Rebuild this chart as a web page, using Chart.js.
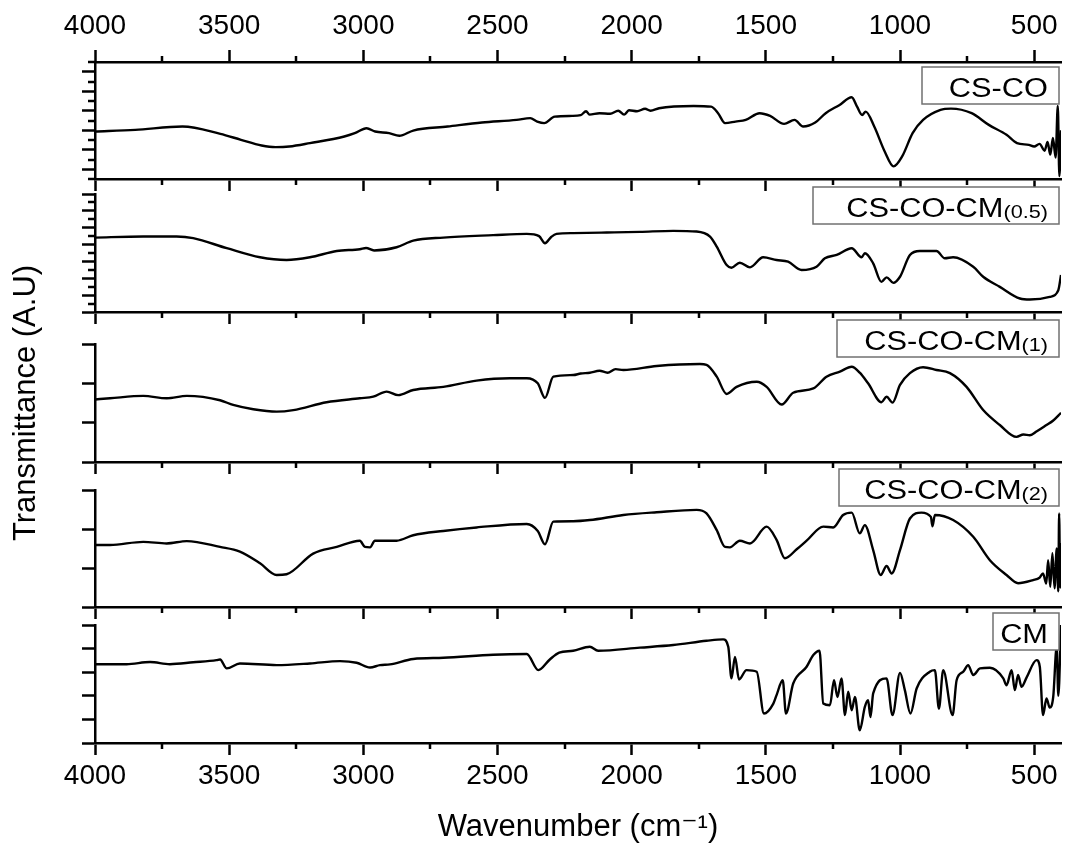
<!DOCTYPE html>
<html>
<head>
<meta charset="utf-8">
<script src="https://cdn.jsdelivr.net/npm/chart.js@4.4.1/dist/chart.umd.min.js"></script>
<style>
  html, body { margin: 0; padding: 0; background: #fff; }
  #wrap { position: relative; width: 1065px; height: 843px; }
  #wrap canvas { position: absolute; left: 0; top: 0; }
</style>
</head>
<body>
<div id="wrap">
  <canvas id="p1" width="1065" height="843"></canvas>
  <canvas id="p2" width="1065" height="843"></canvas>
  <canvas id="p3" width="1065" height="843"></canvas>
  <canvas id="p4" width="1065" height="843"></canvas>
  <canvas id="p5" width="1065" height="843"></canvas>
</div>
<script>
// ---- donnees (nombre d'onde en cm-1, transmittance en unites arbitraires) ----
const xMajor = [4000, 3500, 3000, 2500, 2000, 1500, 1000, 500]
const xMinor = [3750, 3250, 2750, 2250, 1750, 1250, 750]

const names = ['CS-CO', 'CS-CO-CM', 'CS-CO-CM', 'CS-CO-CM', 'CM']
const subs = ['', '(0.5)', '(1)', '(2)', '']

// graduations des axes y de chaque panneau
const yMax = [12, 14, 3, 3, 5]
const yMajor = [[1, 3, 5, 7, 9, 11], [0, 2, 4, 6, 8, 10, 12, 14], [0, 1, 2, 3], [0, 1, 2, 3], [0, 1, 2, 3, 4, 5]]
const yMinor = [[0, 2, 4, 6, 8, 10, 12], [1, 3, 5, 7, 9, 11, 13], [], [], []]

const csCoWn = [4000, 3850, 3674, 3533, 3456, 3379, 3327, 3276, 3199, 3071, 3032, 2988, 2956, 2904, 2866, 2814, 2686, 2558, 2429, 2378, 2352, 2326, 2287, 2222, 2190, 2170, 2157, 2120, 2080, 2050, 2028, 2010, 1980, 1950, 1930, 1898, 1769, 1704, 1678, 1652, 1613, 1575, 1523, 1484, 1432, 1393, 1361, 1316, 1277, 1225, 1180, 1160, 1141, 1128, 1096, 1057, 1024, 992, 953, 914, 849, 810, 733, 669, 603, 564, 520, 500, 480, 461, 450, 440, 430, 420, 412, 406, 400]
const csCoT = [4.87, 5.04, 5.38, 4.63, 4.02, 3.44, 3.27, 3.33, 3.68, 4.36, 4.70, 5.21, 4.87, 4.70, 4.43, 4.97, 5.38, 5.79, 6.06, 6.24, 5.89, 5.73, 6.40, 6.47, 6.55, 6.95, 6.60, 6.75, 6.70, 7.00, 6.60, 7.05, 6.95, 7.20, 7.00, 7.26, 7.49, 7.42, 6.75, 5.73, 5.89, 6.06, 6.75, 6.47, 5.65, 6.06, 5.38, 5.79, 6.75, 7.60, 8.38, 7.42, 6.57, 6.91, 5.38, 2.82, 1.29, 2.31, 4.70, 6.06, 7.09, 7.22, 6.75, 5.55, 4.53, 3.68, 3.50, 3.33, 3.60, 2.90, 3.80, 2.50, 4.20, 2.20, 7.50, 0.30, 5.00]

const cm05Wn = [4000, 3820, 3696, 3634, 3509, 3385, 3286, 3199, 3099, 3013, 2990, 2960, 2876, 2814, 2702, 2516, 2391, 2345, 2323, 2300, 2280, 2218, 2093, 1969, 1845, 1758, 1708, 1683, 1646, 1628, 1597, 1559, 1510, 1460, 1417, 1367, 1311, 1280, 1236, 1180, 1143, 1131, 1100, 1069, 1050, 1025, 1000, 963, 926, 864, 833, 802, 727, 690, 628, 553, 516, 442, 410, 400]
const cm05T = [8.83, 8.95, 8.95, 8.76, 7.57, 6.49, 6.17, 6.49, 7.24, 7.45, 7.60, 7.30, 7.68, 8.47, 8.83, 9.12, 9.27, 9.00, 8.16, 8.90, 9.27, 9.36, 9.43, 9.51, 9.63, 9.55, 8.95, 7.76, 5.57, 5.25, 5.85, 5.30, 6.49, 6.17, 5.97, 4.98, 5.37, 6.37, 6.77, 7.57, 6.49, 6.97, 5.78, 3.58, 4.11, 3.46, 4.18, 6.77, 7.24, 7.24, 6.37, 6.49, 5.37, 4.18, 2.98, 1.60, 1.48, 1.79, 2.59, 4.38]

const cm1Wn = [4000, 3944, 3820, 3733, 3658, 3534, 3485, 3410, 3323, 3261, 3137, 3013, 2963, 2913, 2870, 2814, 2702, 2578, 2454, 2391, 2350, 2323, 2292, 2218, 2190, 2156, 2120, 2090, 2060, 2031, 1907, 1746, 1721, 1683, 1646, 1609, 1534, 1497, 1441, 1398, 1323, 1274, 1224, 1180, 1150, 1119, 1069, 1050, 1028, 1000, 963, 914, 864, 814, 752, 690, 628, 566, 540, 516, 490, 454, 430, 400]
const cm1T = [1.59, 1.62, 1.68, 1.62, 1.68, 1.57, 1.45, 1.34, 1.28, 1.32, 1.52, 1.62, 1.66, 1.79, 1.70, 1.83, 1.91, 2.07, 2.13, 2.13, 2.00, 1.63, 2.17, 2.21, 2.25, 2.27, 2.32, 2.27, 2.36, 2.34, 2.44, 2.49, 2.47, 2.17, 1.73, 1.91, 2.04, 1.91, 1.46, 1.76, 1.87, 2.17, 2.30, 2.42, 2.27, 2.00, 1.52, 1.66, 1.51, 1.96, 2.26, 2.41, 2.34, 2.26, 1.91, 1.32, 0.94, 0.64, 0.70, 0.68, 0.78, 0.94, 1.05, 1.25]

const cm2Wn = [4000, 3944, 3820, 3733, 3658, 3534, 3460, 3385, 3323, 3286, 3187, 3099, 3013, 2994, 2975, 2957, 2876, 2814, 2702, 2578, 2391, 2350, 2323, 2292, 2218, 2156, 2031, 1907, 1758, 1721, 1683, 1652, 1634, 1597, 1559, 1497, 1460, 1429, 1385, 1348, 1286, 1249, 1212, 1180, 1150, 1131, 1100, 1072, 1050, 1031, 1000, 963, 920, 885, 879, 870, 802, 727, 665, 603, 560, 504, 480, 467, 455, 448, 440, 432, 424, 416, 410, 407, 403, 400]
const cm2T = [1.59, 1.59, 1.67, 1.63, 1.69, 1.54, 1.42, 1.12, 0.82, 0.84, 1.37, 1.54, 1.70, 1.54, 1.53, 1.70, 1.70, 1.84, 1.95, 2.04, 2.13, 1.95, 1.61, 2.19, 2.20, 2.23, 2.36, 2.43, 2.49, 2.40, 1.97, 1.54, 1.53, 1.70, 1.63, 2.06, 1.72, 1.25, 1.48, 1.70, 2.06, 2.04, 2.36, 2.42, 1.89, 2.10, 1.46, 0.82, 1.05, 0.86, 1.46, 2.27, 2.42, 2.31, 2.07, 2.36, 2.23, 1.80, 1.20, 0.82, 0.61, 0.69, 0.75, 0.86, 0.60, 1.20, 0.52, 1.38, 0.48, 1.50, 0.40, 2.40, 0.50, 1.64]

const cmWn = [4000, 3882, 3795, 3721, 3634, 3547, 3534, 3509, 3460, 3323, 3199, 3087, 3025, 2975, 2938, 2901, 2814, 2702, 2516, 2391, 2348, 2305, 2270, 2218, 2156, 2125, 1969, 1845, 1721, 1659, 1640, 1628, 1615, 1600, 1572, 1534, 1507, 1472, 1460, 1437, 1425, 1398, 1348, 1323, 1300, 1286, 1261, 1246, 1233, 1218, 1205, 1193, 1180, 1168, 1150, 1131, 1119, 1110, 1100, 1050, 1028, 1000, 982, 961, 938, 889, 870, 855, 839, 804, 789, 764, 746, 727, 702, 665, 615, 603, 584, 572, 560, 547, 528, 491, 479, 467, 454, 442, 429, 416, 410, 400]
const cmT = [3.34, 3.34, 3.43, 3.34, 3.42, 3.51, 3.54, 3.16, 3.37, 3.30, 3.37, 3.47, 3.40, 3.20, 3.30, 3.33, 3.56, 3.61, 3.74, 3.77, 3.09, 3.54, 3.83, 3.91, 4.08, 3.91, 4.04, 4.15, 4.33, 4.39, 4.08, 2.74, 3.65, 2.69, 3.09, 3.02, 1.25, 1.67, 2.03, 2.66, 1.25, 2.52, 3.23, 3.73, 3.91, 1.67, 1.60, 2.66, 1.95, 2.74, 1.18, 2.17, 1.39, 1.95, 0.54, 1.53, 1.81, 1.10, 2.10, 2.74, 1.18, 2.97, 2.24, 1.25, 2.31, 3.02, 3.09, 1.46, 3.09, 1.18, 2.66, 3.02, 3.30, 2.88, 3.16, 3.19, 2.74, 2.45, 3.09, 2.24, 2.88, 2.38, 2.78, 3.51, 3.23, 1.18, 1.89, 1.50, 1.95, 4.08, 2.00, 5.00]

const spectres = [[csCoWn, csCoT], [cm05Wn, cm05T], [cm1Wn, cm1T], [cm2Wn, cm2T], [cmWn, cmT]]

// ---- mise en page (pixels de la page) ----
const W = 1065, H = 843
const zone = [
    {top: 62, bottom: 179},
    {top: 194, bottom: 312},
    {top: 344, bottom: 462},
    {top: 490, bottom: 607},
    {top: 625, bottom: 743}
]
const boite = [{w: 137, dy: 5}, {w: 246, dy: -7}, {w: 222, dy: -24}, {w: 220, dy: -21}, {w: 66, dy: -12}]

const police = "'Liberation Sans', Arial, 'DejaVu Sans', sans-serif"
Chart.defaults.font.family = police
Chart.defaults.color = '#000'

// petites graduations + cadre du nom de l'echantillon
function pluginPanneau(i) {
    return {
        id: 'panneau' + i,
        afterDraw(chart) {
            const ctx = chart.ctx
            ctx.save()
            ctx.strokeStyle = '#000'
            ctx.lineWidth = 2.5
            ctx.beginPath()
            for (const id of Object.keys(chart.scales)) {
                const s = chart.scales[id]
                if (s.isHorizontal()) {
                    const haut = s.options.position === 'top'
                    const y0 = haut ? s.bottom : s.top
                    for (const v of xMinor) {
                        const p = Math.round(s.getPixelForValue(v))
                        ctx.moveTo(p, y0)
                        ctx.lineTo(p, y0 + (haut ? -6 : 6))
                    }
                } else {
                    for (const v of yMinor[i]) {
                        const p = Math.round(s.getPixelForValue(v))
                        ctx.moveTo(s.right, p)
                        ctx.lineTo(s.right - 7, p)
                    }
                }
            }
            ctx.stroke()

            // cadre + texte (legerement etire comme sur l'original)
            const right = chart.chartArea.right - 2
            const top = chart.chartArea.top + boite[i].dy
            const w = boite[i].w, h = 37
            ctx.fillStyle = '#fff'
            ctx.fillRect(right - w, top, w, h)
            ctx.strokeStyle = '#707070'
            ctx.lineWidth = 1.5
            ctx.strokeRect(right - w, top, w, h)
            const fMain = '27px ' + police
            const fSub = '19px ' + police
            ctx.font = fSub
            const sw = subs[i] ? ctx.measureText(subs[i]).width : 0
            ctx.font = fMain
            const mw = ctx.measureText(names[i]).width
            ctx.fillStyle = '#000'
            ctx.textBaseline = 'alphabetic'
            ctx.translate(right - 11, top + 29.5)
            ctx.scale(1.14, 1)
            ctx.fillText(names[i], -(mw + sw), 0)
            if (subs[i]) {
                ctx.font = fSub
                ctx.fillText(subs[i], -sw, 1)
            }
            ctx.restore()
        }
    }
}

function axeX(position, hauteur, labels, titre) {
    return {
        type: 'linear', position: position, min: 400, max: 4000, reverse: true,
        afterBuildTicks: s => { s.ticks = xMajor.map(v => ({value: v})) },
        afterFit: s => { s.height = hauteur },
        grid: {drawOnChartArea: false, drawTicks: true, tickLength: 12, tickWidth: 2.5, tickColor: '#000'},
        border: {display: true, color: '#000', width: 2.5},
        ticks: {display: labels, padding: position === 'top' ? 7 : 4, font: {size: 28}, color: '#000',
            callback: v => String(v), maxRotation: 0, autoSkip: false},
        title: titre ? {display: true, text: titre, font: {size: 31, lineHeight: 1}, padding: 0, color: '#000'} : {display: false}
    }
}

function creerPanneau(i) {
    const [wn, t] = spectres[i]
    const points = wn.map((x, k) => ({x: x, y: t[k]}))
    const z = zone[i]
    const scales = {
        x: axeX('bottom', H - z.bottom, i === 4, i === 4 ? 'Wavenumber (cm\u207B\u00B9)' : null),
        y: {
            type: 'linear', min: 0, max: yMax[i],
            afterBuildTicks: s => { s.ticks = yMajor[i].map(v => ({value: v})) },
            afterFit: s => { s.width = 95 },
            grid: {drawOnChartArea: false, drawTicks: true, tickLength: 13, tickWidth: 2.5, tickColor: '#000'},
            border: {display: true, color: '#000', width: 2.5},
            ticks: {display: false},
            title: i === 2 ? {display: true, text: 'Transmittance (A.U)', font: {size: 31}, padding: {top: 8, bottom: 0}, color: '#000'} : {display: false}
        }
    }
    if (i === 0) scales.xTop = axeX('top', z.top, true, null)

    new Chart(document.getElementById('p' + (i + 1)), {
        type: 'line',
        data: {
            datasets: [{
                data: points,
                borderColor: '#000',
                borderWidth: 2.4,
                pointRadius: 0,
                fill: false,
                cubicInterpolationMode: 'monotone'
            }]
        },
        options: {
            responsive: false,
            animation: false,
            devicePixelRatio: 1,
            events: [],
            layout: {padding: {top: i === 0 ? 0 : z.top, left: 0, right: W - 1061, bottom: 0}},
            plugins: {legend: {display: false}, tooltip: {enabled: false}},
            scales: scales
        },
        plugins: [pluginPanneau(i)]
    })
}

for (let i = 0; i < 5; i++) {
    creerPanneau(i)
}
</script>
</body>
</html>
